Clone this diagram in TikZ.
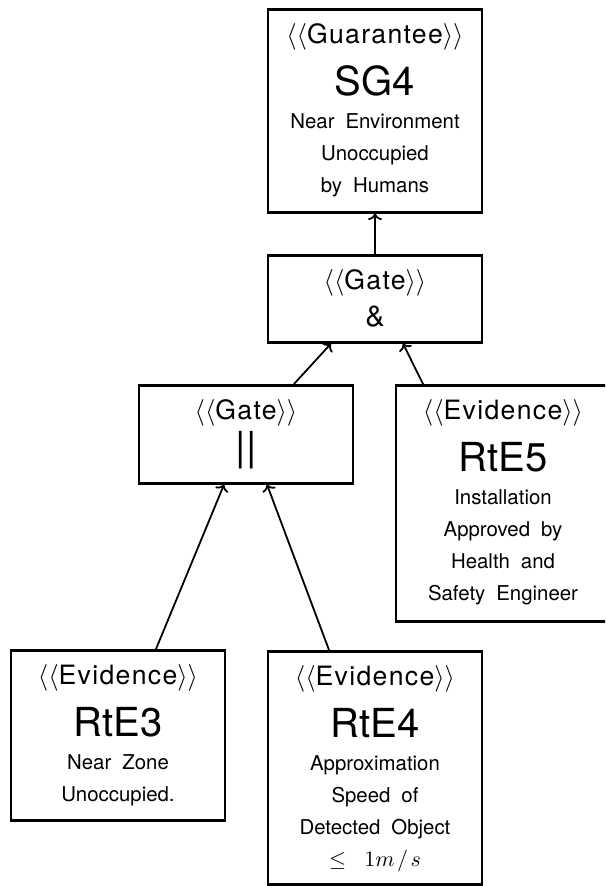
\RequirePackage{fix-cm}
\documentclass[tikz,border=0pt]{standalone}
\usepackage{fontspec}
\setmainfont{TeX Gyre Heros}
\usetikzlibrary{arrows.meta}

% type sizes used in the argument boxes
\newcommand\stereofont{\fontsize{13.3}{16}\selectfont\addfontfeatures{LetterSpace=5}}
\newcommand\stereo[1]{{\stereofont$\langle\langle$#1$\rangle\rangle$}}
\newcommand\idfont{\fontsize{20}{16}\selectfont}
\newcommand\descfont{\fontsize{10.2}{16}\selectfont\spaceskip=5.5pt plus 1pt}
% fixed-size, top-aligned box content: width, height, lines
\newcommand\boxtext[3]{\parbox[t][#2][t]{#1}{\centering
  \fontsize{10}{16}\selectfont\lineskiplimit=-\maxdimen\lineskip=0pt
  \rule{0pt}{17pt}#3}}

\tikzset{
  gsn/.style={draw, line width=1.3pt, inner sep=0pt, anchor=north},
  link/.style={line width=0.9pt, -{To[length=3.2pt,width=7pt]}}
}

\begin{document}
\begin{tikzpicture}[x=0.5pt,y=-0.5pt]
\path[clip] (0,0) rectangle (605,886);

% goal
\node[gsn] (sg4) at (375,8) {\boxtext{107pt}{101.5pt}{%
  \stereo{Guarantee}\\[10pt]
  \idfont SG4\\[0.5pt]
  \descfont Near Environment\\
  Unoccupied\\
  by Humans}};

% gates
\node[gsn] (and) at (375,254) {\boxtext{107pt}{43.5pt}{%
  \stereo{Gate}\\[2.5pt]
  {\fontsize{14.5}{16}\selectfont\&}}};

\node[gsn] (or) at (246,384) {\boxtext{107pt}{49pt}{%
  \stereo{Gate}\\[4.5pt]
  \idfont ||}};

% evidence
\node[gsn] (rte5) at (503,384) {\boxtext{107pt}{118pt}{%
  \stereo{Evidence}\\[10pt]
  \idfont RtE5\\[0.5pt]
  \descfont Installation\\
  Approved by\\
  Health and\\
  Safety Engineer}};

\node[gsn] (rte3) at (118,649) {\boxtext{107pt}{85pt}{%
  \stereo{Evidence}\\[10pt]
  \idfont RtE3\\[0.5pt]
  \descfont Near Zone\\
  Unoccupied.}};

\node[gsn] (rte4) at (375,650) {\boxtext{107pt}{116.5pt}{%
  \stereo{Evidence}\\[10pt]
  \idfont RtE4\\[0.5pt]
  \descfont Approximation\\
  Speed of\\
  Detected Object\\
  {\fontsize{11}{16}\selectfont$\leq$\hspace{9pt}$1m\mkern2mu/\mkern2mu s$}}};

% support links
\draw[link] (and.north) -- (sg4.south);
\draw[link] ([xshift=24pt]or.north) -- ([xshift=-22pt]and.south);
\draw[link] ([xshift=-40pt]rte5.north) -- ([xshift=14pt]and.south);
\draw[link] ([xshift=19pt]rte3.north) -- ([xshift=-11pt]or.south);
\draw[link] ([xshift=-23pt]rte4.north) -- ([xshift=10.5pt]or.south);
\end{tikzpicture}
\end{document}
